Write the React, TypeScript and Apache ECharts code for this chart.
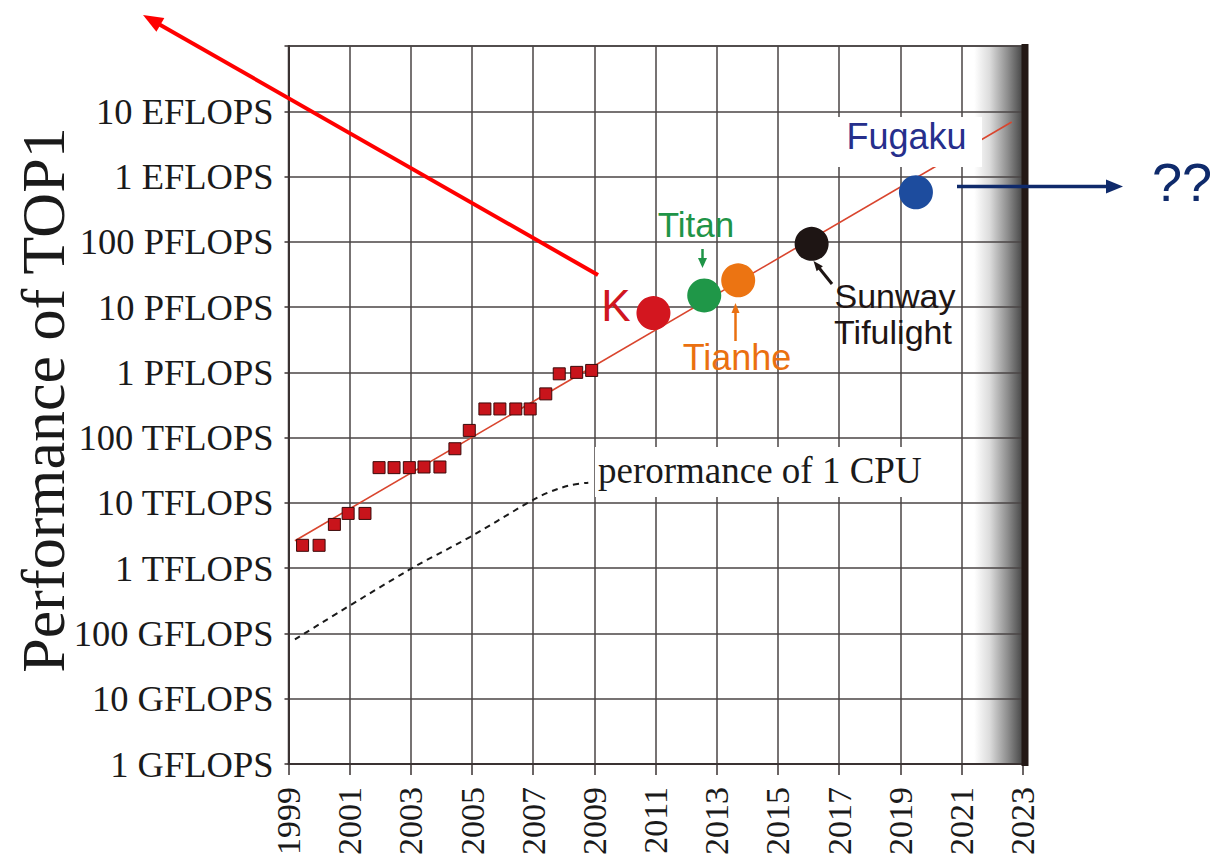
import React, { useEffect, useRef } from 'react';
import * as echarts from 'echarts';

// ---- data ----
const X_BASE = 1999; // first year on the axis
const yAxisTitle = 'Performance of TOP1';
const yTickLabels = [
  '1 GFLOPS', '10 GFLOPS', '100 GFLOPS', '1 TFLOPS', '10 TFLOPS', '100 TFLOPS',
  '1 PFLOPS', '10 PFLOPS', '100 PFLOPS', '1 EFLOPS', '10 EFLOPS',
];

const top1Years = [
  1999.46, 2000.0, 2000.5, 2000.95, 2001.5, 2001.96, 2002.45, 2002.95, 2003.43, 2003.95,
  2004.44, 2004.91, 2005.42, 2005.91, 2006.43, 2006.9, 2007.41, 2007.85, 2008.42, 2008.91,
];
const top1Flops = [
  2.24e12, 2.24e12, 4.68e12, 6.9e12, 6.9e12, 3.47e13, 3.47e13, 3.47e13, 3.55e13, 3.55e13,
  6.76e13, 1.29e14, 2.75e14, 2.75e14, 2.75e14, 2.75e14, 4.68e14, 9.5e14, 1.0e15, 1.07e15,
];

const machineNames = ['K', 'Titan', 'Tianhe', 'Sunway Tifulight', 'Fugaku'];
const machineYears = [2010.93, 2012.59, 2013.7, 2016.1, 2019.51];
const machineFlops = [8.1e15, 1.51e16, 2.57e16, 9.3e16, 5.75e17];
const machineColors = ['#d3161f', '#1f9748', '#ec7412', '#1e1514', '#1d4c9e'];

const trendYears = [1999.21, 2022.64];
const trendFlops = [2.63e12, 6.86e18];

const cpuYears = [1999.21, 2002.92, 2004.93, 2006.79, 2007.44, 2008.2, 2008.8];
const cpuFlops = [8.1e10, 9.3e11, 3.0e12, 9.8e12, 1.41e13, 1.86e13, 2.04e13];

// ---- helpers ----
const toPoint = (year: number, flops: number) => [year - X_BASE, Math.log10(flops)];

function arrow(x1: number, y1: number, x2: number, y2: number, color: string, width: number, headLen: number, headW: number) {
  const dx = x2 - x1;
  const dy = y2 - y1;
  const len = Math.sqrt(dx * dx + dy * dy);
  const ux = dx / len;
  const uy = dy / len;
  const bx = x2 - ux * headLen;
  const by = y2 - uy * headLen;
  const px = -uy * headW / 2;
  const py = ux * headW / 2;
  return [
    { type: 'line', z: 20, shape: { x1, y1, x2: bx + ux * 1, y2: by + uy * 1 }, style: { stroke: color, lineWidth: width } },
    { type: 'polygon', z: 20, shape: { points: [[x2, y2], [bx + px, by + py], [bx - px, by - py]] }, style: { fill: color } },
  ];
}

const SANS = '"Liberation Sans", Arial, sans-serif';
const SERIF = '"Liberation Serif", "Times New Roman", serif';

function label(text: string, x: number, y: number, size: number, color: string, family = SANS, align = 'center') {
  return {
    type: 'text', z: 20, x, y,
    style: { text, fill: color, font: `${size}px ${family}`, textAlign: align, textVerticalAlign: 'middle' },
  };
}

export default function App() {
  const ref = useRef<HTMLDivElement>(null);

  useEffect(() => {
    document.body.style.margin = '0';
    if (!ref.current) return;
    const chart = echarts.init(ref.current, undefined, { renderer: 'svg' });

    const gridColor = '#4a4444';

    const option: any = {
      animation: false,
      backgroundColor: '#ffffff',
      grid: {
        left: 288.5, right: 188.3, top: 46, bottom: 95,
        containLabel: false,
        outerBoundsMode: 'none',
        show: true,
        borderColor: '#3e3838',
        borderWidth: 1.5,
        backgroundColor: {
          type: 'linear', x: 0, y: 0, x2: 1, y2: 0,
          colorStops: [
            { offset: 0, color: '#ffffff' },
            { offset: 0.934, color: '#ffffff' },
            { offset: 0.955, color: '#dcdcdc' },
            { offset: 0.98, color: '#8c8c8c' },
            { offset: 1, color: '#454545' },
          ],
        },
      },
      xAxis: {
        type: 'value', min: 0, max: 24, interval: 2,
        axisLine: { lineStyle: { color: '#3a3232', width: 2 } },
        axisTick: { show: true, length: 11, lineStyle: { color: '#3a3232', width: 1.5 } },
        axisLabel: {
          rotate: 90, margin: 23, fontSize: 34, fontFamily: SERIF, color: '#1a1a1a',
          formatter: (v: number) => String(X_BASE + Math.round(v)),
        },
        splitLine: { show: true, lineStyle: { color: gridColor, width: 1.5 } },
      },
      yAxis: {
        type: 'value', min: 9, max: 20, interval: 1,
        axisLine: { show: true, lineStyle: { color: '#3a3232', width: 2 } },
        axisTick: { show: true, length: 4, lineStyle: { color: '#3a3232', width: 1.5 } },
        axisLabel: {
          margin: 15, fontSize: 36.5, fontFamily: SERIF, color: '#1a1a1a',
          padding: [0, 0, 5, 0],
          formatter: (v: number) => yTickLabels[Math.round(v) - 9] ?? '',
        },
        splitLine: { show: true, lineStyle: { color: gridColor, width: 1.5 } },
      },
      series: [
        {
          name: 'trend', type: 'line', symbol: 'none', z: 3,
          data: trendYears.map((y, i) => toPoint(y, trendFlops[i])),
          lineStyle: { color: '#d9452e', width: 1.6 },
        },
        {
          name: 'performance of 1 CPU', type: 'line', symbol: 'none', smooth: 0.35, z: 3,
          data: cpuYears.map((y, i) => toPoint(y, cpuFlops[i])),
          lineStyle: { color: '#1a1a1a', width: 2, type: [6, 5] },
        },
        {
          name: 'TOP1', type: 'scatter', symbol: 'rect', symbolSize: 12, z: 4,
          data: top1Years.map((y, i) => toPoint(y, top1Flops[i])),
          itemStyle: { color: '#c8141b', borderColor: '#3b0a0a', borderWidth: 1, opacity: 1 },
        },
        {
          name: 'machines', type: 'scatter', symbol: 'circle', symbolSize: 34, z: 5,
          data: machineYears.map((y, i) => ({
            name: machineNames[i],
            value: toPoint(y, machineFlops[i]),
            itemStyle: { color: machineColors[i], opacity: 1 },
          })),
        },
      ],
      graphic: [
        // y axis title
        {
          type: 'text', z: 20, x: 43, y: 400, rotation: Math.PI / 2,
          style: { text: yAxisTitle, fill: '#1a1a1a', font: `62px ${SERIF}`, textAlign: 'center', textVerticalAlign: 'middle' },
        },
        // dark right border bar
        { type: 'rect', z: 15, shape: { x: 1021.5, y: 44, width: 7, height: 722 }, style: { fill: '#231815' } },
        // white boxes behind labels
        { type: 'rect', z: 15, shape: { x: 832, y: 117, width: 150, height: 50 }, style: { fill: '#ffffff' } },
        { type: 'rect', z: 15, shape: { x: 595, y: 447, width: 340, height: 50 }, style: { fill: '#ffffff' } },
        label('Fugaku', 906.5, 136, 36, '#262f8c'),
        label('perormance of 1 CPU', 598, 470, 37, '#1a1a1a', SERIF, 'left'),
        label('K', 616, 305, 44, '#d0161f'),
        label('Titan', 696, 224, 35, '#1f9447'),
        label('Tianhe', 737, 357, 36, '#ea7010'),
        label('Sunway', 895, 296, 34, '#1e1514'),
        label('Tifulight', 893, 332, 34, '#1e1514'),
        label('??', 1182, 182, 54, '#0f2a6b'),
        ...arrow(598, 275, 143, 15, '#ff0000', 4, 20, 16),
        ...arrow(957, 186.5, 1123, 186.5, '#0f2a6b', 3.5, 17, 14),
        ...arrow(702.5, 249, 702.5, 268, '#1f9447', 2.5, 10, 9),
        ...arrow(735.5, 341, 735.5, 303, '#ea7010', 2.5, 10, 8),
        ...arrow(832, 284, 813.5, 261, '#1e1514', 3, 10, 8),
      ],
    };

    chart.setOption(option);
    return () => chart.dispose();
  }, []);

  return <div ref={ref} style={{ width: 1211, height: 859 }} />;
}
